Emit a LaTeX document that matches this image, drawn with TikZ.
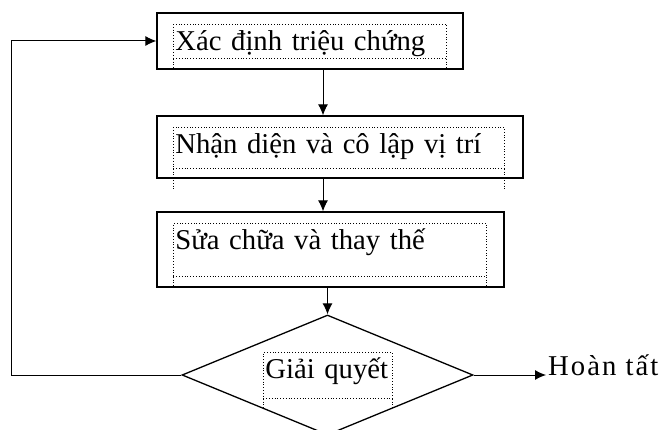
\documentclass[tikz,border=0pt]{standalone}
\usepackage{fontspec}
\setmainfont{Liberation Serif}
\usetikzlibrary{shapes.geometric, arrows.meta}
\tikzstyle{arrow} = [line width=1pt, -{Latex[length=11pt, width=10pt]}]
\tikzstyle{block} = [rectangle, draw, line width=1.3pt, inner sep=0pt]
\tikzstyle{decision} = [diamond, draw, line width=1.3pt, inner sep=0pt, aspect=2.425]
\tikzstyle{textbox} = [rectangle, draw, dotted, line width=0.8pt, inner sep=2pt,
text height=24pt, align=left, anchor=north west]

\begin{document}
\begin{tikzpicture}[x=1pt, y=-1pt, font=\fontsize{28.7pt}{32pt}\selectfont]
    \useasboundingbox (0,0) rectangle (666,430);
    % Nodes
    \node[block, minimum width=306, minimum height=56] (symptom) at (310, 41) {};
    \node[block, minimum width=366, minimum height=62] (locate)  at (340, 147) {};
    \node[block, minimum width=347, minimum height=75] (repair)  at (330.5, 249.5) {};
    \node[decision, minimum width=291, minimum height=120] (solved) at (327.5, 375) {};

    \node[textbox, text width=269, text depth=6pt]  (tsymptom) at (173, 24)  {Xác định triệu chứng};
    \node[textbox, text width=327, text depth=13pt] (tlocate)  at (173, 127) {Nhận diện và cô lập vị trí};
    \node[textbox, text width=309, text depth=25pt] (trepair)  at (173, 223) {Sửa chữa và thay thế};
    \node[textbox, text width=125, text depth=18pt] (tsolved)  at (263, 352) {Giải quyết};
    \node[anchor=base west, inner sep=2pt] (done) at (546, 375) {\addfontfeature{LetterSpace=7}Hoàn tất};

    % Text box edges
    \draw[dotted, line width=0.8pt] (tsymptom.south west) -- ++(0,11) (tsymptom.south east) -- ++(0,11);
    \draw[dotted, line width=0.8pt] (tlocate.south west) -- ++(0,22) (tlocate.south east) -- ++(0,22);
    \draw[dotted, line width=0.8pt] (trepair.south west) -- (trepair.south west |- repair.south)
        (trepair.south east) -- (trepair.south east |- repair.south);
    \draw[dotted, line width=0.8pt] (tsolved.south west) -- ++(0,10) (tsolved.south east) -- ++(0,10);

    % Arrows
    \draw[arrow] ([xshift=13]symptom.south) -- ([xshift=13]symptom.south |- locate.north);
    \draw[arrow] ([xshift=-17]locate.south) -- ([xshift=-17]locate.south |- repair.north);
    \draw[arrow] (repair.south -| solved.north) -- (solved.north);
    \draw[arrow] (solved.west) -- ++(-170,0) |- (symptom.west);
    \draw[arrow] (solved.east) -- (solved.east -| done.west);

\end{tikzpicture}
\end{document}
